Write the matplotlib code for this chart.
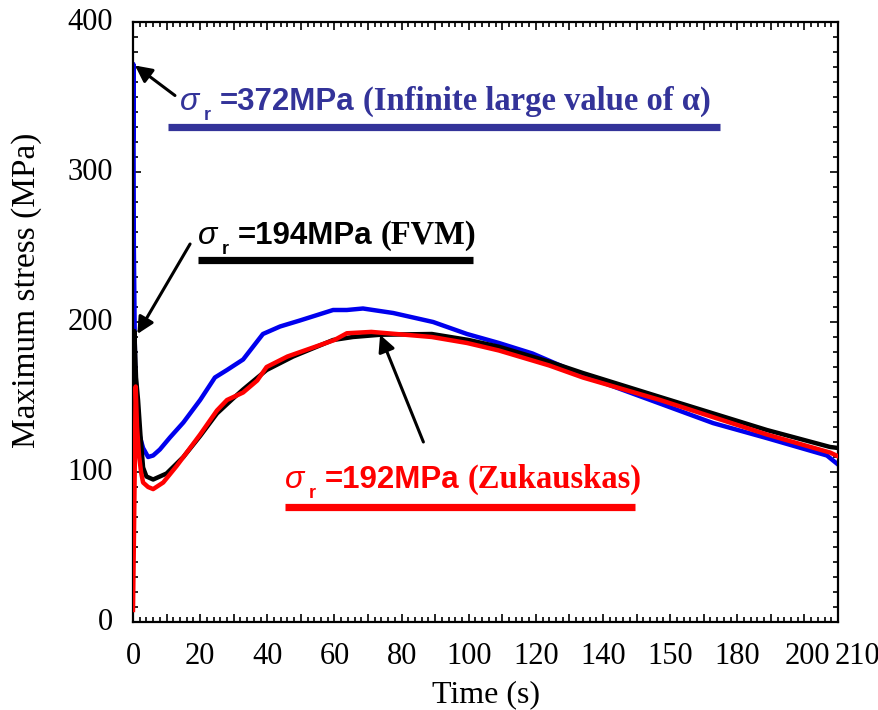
import matplotlib
matplotlib.use("Agg")
import matplotlib.pyplot as plt
from matplotlib.ticker import MultipleLocator
from matplotlib.transforms import offset_copy

# ---------------- data ----------------
time_inf = [0, 0.1, 0.25, 0.6, 1.2, 2, 3, 4.5, 6, 8, 11, 15, 20, 24.4, 28, 32.8, 38.7, 43.8,
            49.7, 59.6, 63.7, 68.5, 77.5, 89.4, 99.5, 109, 119, 134, 157, 172.8, 188.8, 206.7, 210]
stress_inf = [322, 372, 250, 172, 142, 124, 116, 110, 111, 115, 123, 133, 148, 163, 168, 175, 192, 197,
              201, 208, 208, 209, 206, 200, 192, 186, 179, 164.5, 145.6, 132.6, 122.6, 111, 105]

time_fvm = [0, 0.4, 0.9, 1.5, 2.2, 3, 4, 6, 8, 10, 15, 20, 25, 29.8, 32.8, 39.8, 47.7, 59.6,
            65.5, 73.6, 89, 100, 109, 124, 134, 157, 188.8, 207.6, 210]
stress_fvm = [136, 194, 163, 148, 125, 103, 97, 95, 97, 99, 110, 124, 139, 149, 155, 168, 177, 188,
              190, 191.5, 192, 188, 183.5, 173.5, 166, 150, 128, 116.7, 116]

time_zuk = [0, 0.3, 0.8, 1.2, 1.8, 2.4, 3, 4.5, 6, 9, 13, 20, 25, 28, 32.8, 37, 39.8, 46, 60,
            63.7, 71, 89, 99.5, 109, 124, 134, 157, 188.8, 207.6, 210]
stress_zuk = [8, 60, 157, 130, 111, 100, 93, 90, 88.6, 93, 104, 125, 141, 148, 153, 161, 170, 177, 188,
              192.5, 193.4, 190, 186, 181, 171, 163, 148, 125, 113, 110.5]

xtick_pos = [0, 20, 40, 60, 80, 100, 120, 140, 160, 180, 200, 210]
xtick_labels = ["0", "20", "40", "60", "80", "100", "120", "140", "150", "180", "200", "210"]
ytick_pos = [0, 100, 200, 300, 400]

W, H = 879, 710
fig = plt.figure(figsize=(W / 100, H / 100), dpi=100)
ax = fig.add_axes([133 / W, 1 - 622 / H, (838 - 133) / W, (622 - 22) / H])

ax.plot(time_fvm, stress_fvm, color="black", lw=3.2, solid_joinstyle="round", zorder=3)
ax.plot(time_zuk, stress_zuk, color="#ff0000", lw=3.2, solid_joinstyle="round", zorder=4)
ax.plot(time_inf, stress_inf, color="#0000ee", lw=3.2, solid_joinstyle="round", zorder=2)

ax.set_xlim(0, 210)
ax.set_ylim(0, 400)

ax.xaxis.set_major_locator(MultipleLocator(10))
ax.xaxis.set_minor_locator(MultipleLocator(2))
ax.yaxis.set_major_locator(MultipleLocator(100))
ax.yaxis.set_minor_locator(MultipleLocator(10))
ax.tick_params(which="both", direction="in", top=True, right=True, width=1.2, colors="black")
ax.tick_params(which="major", length=6)
ax.tick_params(which="minor", length=3.5)
ax.set_xticklabels([])
ax.set_yticklabels([])
for s in ax.spines.values():
    s.set_linewidth(1.6)

serif = "Liberation Serif"
sans = "Liberation Sans"

# tick labels (custom text)
xtr = ax.get_xaxis_transform()
ty = -0.034
for p, lab in zip(xtick_pos, xtick_labels):
    if lab == "210":
        tr = offset_copy(xtr, fig=fig, x=-3, y=0, units="dots")
        ax.text(p, ty, lab, transform=tr, ha="left", va="top", fontsize=22, family=serif)
    elif lab == "200":
        tr = offset_copy(xtr, fig=fig, x=3, y=0, units="dots")
        ax.text(p, ty, lab, transform=tr, ha="center", va="top", fontsize=22, family=serif)
    else:
        ax.text(p, ty, lab, transform=xtr, ha="center", va="top", fontsize=22, family=serif)
for p in ytick_pos:
    ax.text(-0.028, p, str(p), transform=ax.get_yaxis_transform(), ha="right", va="center",
            fontsize=22, family=serif)

fig.text(486 / W, 1 - 695 / H, "Time (s)", ha="center", va="center", fontsize=23, family=serif)
fig.text(27 / W, 1 - 290 / H, "Maximum stress (MPa)", ha="center", va="center", rotation=90,
         fontsize=24, family=serif)

# arrows
arrow_kw = dict(arrowstyle="-|>,head_length=1.0,head_width=0.5", color="black", lw=2.2,
                shrinkA=0, shrinkB=0)
ax.annotate("", xy=(0.6, 371), xytext=(12.5, 351), arrowprops=arrow_kw)
ax.annotate("", xy=(1.3, 192), xytext=(17, 252), arrowprops=arrow_kw)
ax.annotate("", xy=(73.6, 191.5), xytext=(86.5, 120), arrowprops=arrow_kw)

fig.canvas.draw()
renderer = fig.canvas.get_renderer()


def rich_text(x0, baseline, pieces, color):
    x = x0
    for s, fam, style, weight, size, dy, gap in pieces:
        t = fig.text(x / W, 1 - (baseline + dy) / H, s, ha="left", va="baseline",
                     family=fam, style=style, weight=weight, fontsize=size, color=color)
        bb = t.get_window_extent(renderer)
        x = bb.x1 + gap


def pieces(value, label):
    return [
        ("σ", sans, "italic", "normal", 23, 0, 5),
        ("r", sans, "normal", "bold", 13, 10, 9),
        ("=" + value + "MPa", sans, "normal", "bold", 22.5, 0, 8),
        (label, serif, "normal", "bold", 23.5, 0, 0),
    ]


blue_txt = "#333399"
rich_text(180, 110, pieces("372", "(Infinite large value of α)"), blue_txt)
rich_text(198, 244, pieces("194", "(FVM)"), "black")
rich_text(285, 488, pieces("192", "(Zukauskas)"), "#ff0000")

# underline bars
def bar(x1, x2, y, color):
    fig.add_artist(plt.Line2D([x1 / W, x2 / W], [1 - y / H, 1 - y / H], color=color,
                              lw=5.2, solid_capstyle="butt", transform=fig.transFigure))

bar(168, 720, 126.5, blue_txt)
bar(198, 473, 260, "black")
bar(285, 635, 506.5, "#ff0000")

fig.savefig("out.png", dpi=100)
